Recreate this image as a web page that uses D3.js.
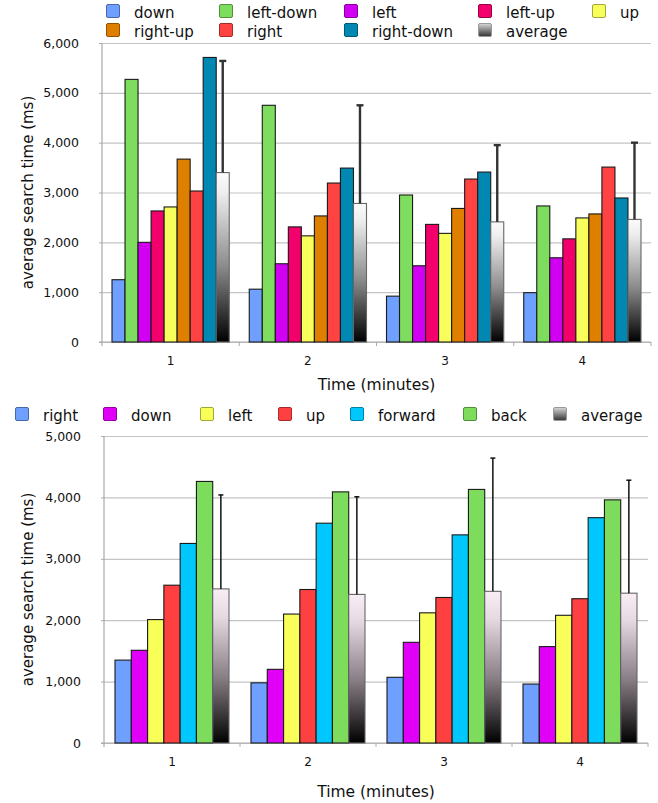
<!DOCTYPE html>
<html>
<head>
<meta charset="utf-8">
<script src="https://cdn.jsdelivr.net/npm/d3@7"></script>
<style>
  body { margin: 0; background: #fff; }
  text { font-family: "DejaVu Sans", sans-serif; fill: #111; }
  .grid line { stroke: #c4c4c4; stroke-width: 1.2; }
  .grid .domain { display: none; }
  .y.axis .domain { display: none; }
  .y.axis line { stroke: #aaa; }
  .x.axis .domain { display: none; }
</style>
</head>
<body>
<div id="chart"></div>
<script>
(function() {
  // --- data ---
  var minutes = ["1", "2", "3", "4"];

  var topSeries = ["down", "left-down", "left", "left-up", "up", "right-up", "right", "right-down", "average"];
  var topColors = ["#6fa0ff", "#7edd5e", "#d200f2", "#f2006c", "#f8ff5c", "#df7f00", "#ff4242", "#0088b2", "grad"];
  var topDown      = [1250, 1060, 920, 990];
  var topLeftDown  = [5270, 4750, 2950, 2730];
  var topLeft      = [2000, 1570, 1530, 1690];
  var topLeftUp    = [2630, 2310, 2360, 2070];
  var topUp        = [2710, 2130, 2180, 2490];
  var topRightUp   = [3670, 2530, 2680, 2570];
  var topRight     = [3030, 3190, 3270, 3510];
  var topRightDown = [5710, 3490, 3410, 2890];
  var topAverage   = [3400, 2780, 2410, 2460];
  var topErrorTop  = [5640, 4750, 3950, 4000];
  var topTicks = [0, 1000, 2000, 3000, 4000, 5000, 6000];

  var botSeries = ["right", "down", "left", "up", "forward", "back", "average"];
  var botColors = ["#70a0ff", "#e000f8", "#f8ff58", "#ff4040", "#00c8ff", "#7ddc5c", "grad"];
  var botRight    = [1350, 980, 1070, 960];
  var botDown     = [1510, 1200, 1640, 1570];
  var botLeft     = [2010, 2100, 2120, 2080];
  var botUp       = [2570, 2500, 2370, 2350];
  var botForward  = [3250, 3580, 3390, 3670];
  var botBack     = [4260, 4090, 4130, 3960];
  var botAverage  = [2510, 2420, 2470, 2440];
  var botErrorTop = [4040, 4010, 4640, 4280];
  var botTicks = [0, 1000, 2000, 3000, 4000, 5000];

  var svg = d3.select("#chart")
    .append("svg")
    .attr("width", 658)
    .attr("height", 803);

  var defs = svg.append("defs");

  function gradient(id, stops) {
    var g = defs.append("linearGradient")
      .attr("id", id)
      .attr("x1", 0).attr("y1", 0).attr("x2", 0).attr("y2", 1);
    stops.forEach(function(s) {
      g.append("stop").attr("offset", s[0]).attr("stop-color", s[1]);
    });
  }
  gradient("gradTop", [["0%", "#fbfbfb"], ["12%", "#eeeeee"], ["55%", "#8c8c8c"], ["100%", "#000"]]);
  gradient("gradBot", [["0%", "#f9eef5"], ["18%", "#e6dae2"], ["58%", "#877d84"], ["100%", "#000"]]);
  gradient("gradKey", [["0%", "#d8d8d8"], ["100%", "#333"]]);

  function drawChart(opts) {
    var g = svg.append("g")
      .attr("transform", "translate(" + opts.left + "," + opts.top + ")");

    var xCat = d3.scaleBand().domain(minutes).range([0, opts.width]);
    var xSer = d3.scaleBand().domain(opts.series)
      .range([opts.pad, xCat.bandwidth() - opts.pad]);
    var y = d3.scaleLinear().domain([0, opts.max]).range([opts.height, 0]);

    // gridlines
    g.append("g")
      .attr("class", "grid")
      .call(d3.axisLeft(y).tickValues(opts.ticks).tickSize(-opts.width).tickFormat(""));

    // y axis labels with little stubs
    var yAxis = g.append("g")
      .attr("class", "y axis")
      .call(d3.axisLeft(y).tickValues(opts.ticks).tickSize(3).tickPadding(20).tickFormat(d3.format(",")));
    yAxis.selectAll("text").style("font-size", "12.5px");

    // left axis line
    g.append("line")
      .attr("x1", 0).attr("x2", 0)
      .attr("y1", 0).attr("y2", opts.height + 4)
      .attr("stroke", "#aaa").attr("stroke-width", 1.2);

    // bottom line and boundary ticks
    g.append("line")
      .attr("x1", -3).attr("x2", opts.width)
      .attr("y1", opts.height).attr("y2", opts.height)
      .attr("stroke", "#aaa").attr("stroke-width", 1.2);
    g.selectAll(".cat-tick")
      .data(minutes.slice(1).concat(["end"]))
      .enter().append("line")
      .attr("class", "cat-tick")
      .attr("x1", function(d) { return d === "end" ? opts.width : xCat(d); })
      .attr("x2", function(d) { return d === "end" ? opts.width : xCat(d); })
      .attr("y1", opts.height)
      .attr("y2", opts.height + 4)
      .attr("stroke", "#aaa");

    var xAxis = g.append("g")
      .attr("class", "x axis")
      .attr("transform", "translate(0," + opts.height + ")")
      .call(d3.axisBottom(xCat).tickSize(0).tickPadding(14));
    xAxis.selectAll("text").style("font-size", "12px");

    // bars
    var rows = [];
    minutes.forEach(function(m, i) {
      opts.series.forEach(function(s, j) {
        rows.push({ minute: m, series: s, value: opts.values[j][i], color: opts.colors[j], err: s === "average" ? opts.errorTop[i] : null });
      });
    });

    g.selectAll(".bar")
      .data(rows)
      .enter().append("rect")
      .attr("class", "bar")
      .attr("x", function(d) { return xCat(d.minute) + xSer(d.series); })
      .attr("y", function(d) { return y(d.value); })
      .attr("width", xSer.bandwidth())
      .attr("height", function(d) { return opts.height - y(d.value); })
      .attr("fill", function(d) { return d.color === "grad" ? "url(#" + opts.grad + ")" : d.color; })
      .attr("stroke", function(d) { return d.color === "grad" ? "#666" : "#1a1a1a"; })
      .attr("stroke-width", 1.1);

    // error whiskers (upper only)
    var errs = rows.filter(function(d) { return d.err !== null; });
    var ex = function(d) { return xCat(d.minute) + xSer(d.series) + xSer.bandwidth() / 2; };
    g.selectAll(".err")
      .data(errs)
      .enter().append("line")
      .attr("class", "err")
      .attr("x1", ex).attr("x2", ex)
      .attr("y1", function(d) { return y(d.value); })
      .attr("y2", function(d) { return y(d.err); })
      .attr("stroke", opts.errColor).attr("stroke-width", opts.errWidth);
    g.selectAll(".cap")
      .data(errs)
      .enter().append("line")
      .attr("class", "cap")
      .attr("x1", function(d) { return ex(d) - opts.capW; })
      .attr("x2", function(d) { return ex(d) + opts.capW; })
      .attr("y1", function(d) { return y(d.err); })
      .attr("y2", function(d) { return y(d.err); })
      .attr("stroke", opts.errColor).attr("stroke-width", opts.errWidth);

    // axis titles
    g.append("text")
      .attr("x", opts.width / 2)
      .attr("y", opts.titleY)
      .style("text-anchor", "middle")
      .style("font-size", "15.5px")
      .text("Time (minutes)");

    g.append("text")
      .attr("transform", "translate(" + (-opts.left + 33) + "," + (opts.height / 2) + ") rotate(-90)")
      .style("text-anchor", "middle")
      .style("font-size", "15px")
      .text("average search time (ms)");

    // legend
    var legend = svg.selectAll(".key-" + opts.grad)
      .data(opts.series)
      .enter().append("g")
      .attr("class", "key-" + opts.grad)
      .attr("transform", function(d, i) {
        return "translate(" + opts.keyX[i % opts.keyCols] + "," + opts.keyY[Math.floor(i / opts.keyCols)] + ")";
      });
    legend.append("rect")
      .attr("x", 0.5).attr("y", -13.5)
      .attr("width", 13).attr("height", 13)
      .attr("rx", 1.5)
      .attr("fill", function(d, i) { return opts.colors[i] === "grad" ? "url(#gradKey)" : opts.colors[i]; })
      .attr("stroke", function(d, i) { return opts.colors[i] === "grad" ? "#999" : d3.color(opts.colors[i]).darker(1.2); })
      .attr("stroke-width", 1);
    legend.append("text")
      .attr("x", 28)
      .attr("y", 0)
      .style("font-size", "15px")
      .text(function(d) { return d; });
  }

  drawChart({
    left: 102, top: 43, width: 549, height: 299,
    max: 6000, ticks: topTicks, pad: 10,
    series: topSeries, colors: topColors,
    values: [topDown, topLeftDown, topLeft, topLeftUp, topUp, topRightUp, topRight, topRightDown, topAverage],
    errorTop: topErrorTop, grad: "gradTop",
    errColor: "#333", errWidth: 2.4, capW: 3.5,
    titleY: 347,
    keyX: [106, 219, 344, 478, 592], keyY: [18, 37], keyCols: 5
  });

  drawChart({
    left: 104, top: 436, width: 544, height: 307,
    max: 5000, ticks: botTicks, pad: 11,
    series: botSeries, colors: botColors,
    values: [botRight, botDown, botLeft, botUp, botForward, botBack, botAverage],
    errorTop: botErrorTop, grad: "gradBot",
    errColor: "#111", errWidth: 1.5, capW: 2.5,
    titleY: 361,
    keyX: [15, 103, 200, 278, 350, 463, 553], keyY: [421], keyCols: 7
  });
})();
</script>
</body>
</html>
